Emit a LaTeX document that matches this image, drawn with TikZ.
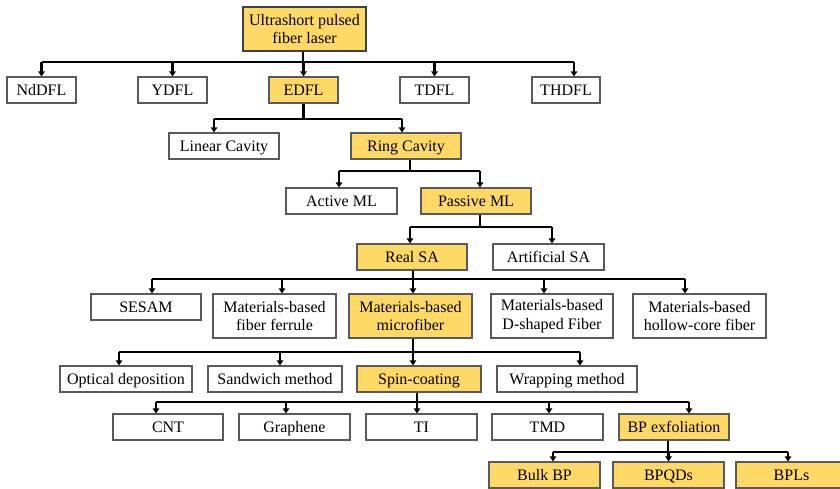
\documentclass[tikz,border=0pt]{standalone}
\usepackage{fontspec}
\setmainfont{Liberation Serif}
\usetikzlibrary{arrows.meta}
\definecolor{gold}{RGB}{255,217,102}
\definecolor{edge}{RGB}{90,90,90}
\begin{document}
\begin{tikzpicture}[x=1pt,y=-1pt,
  bx/.style={draw=edge,line width=1.2pt,minimum height=26pt,inner sep=0pt,align=center,
     font=\fontsize{16}{18.5}\selectfont},
  one/.style={text height=12pt,text depth=1.4pt},
  hi/.style={bx,fill=gold},
  tall/.style={minimum height=44pt},
  ln/.style={line width=2.4pt},
  arr/.style={line width=2.4pt,-{Triangle[length=5pt,width=6.5pt]}}]
\useasboundingbox (0,0) rectangle (840,488);
\clip (0,0) rectangle (840,488);
% level 0
\node[hi,tall,minimum width=123pt,draw=black!75] (root) at (304.5,29) {Ultrashort pulsed\\fiber laser};
% level 1
\node[bx,one,minimum width=69pt] (nd) at (41.5,90) {NdDFL};
\node[bx,one,minimum width=69pt] (yd) at (172.5,90) {YDFL};
\node[hi,one,minimum width=69pt] (ed) at (303.5,90) {EDFL};
\node[bx,one,minimum width=69pt] (td) at (434.5,90) {TDFL};
\node[bx,one,minimum width=68pt] (thd) at (566,90) {THDFL};
% level 2
\node[bx,one,minimum width=110pt] (lin) at (224,146) {Linear Cavity};
\node[hi,one,minimum width=110pt] (ring) at (406,146) {Ring Cavity};
% level 3
\node[bx,one,minimum width=111pt] (act) at (341.5,201) {Active ML};
\node[hi,one,minimum width=110pt] (pas) at (476,201) {Passive ML};
% level 4
\node[hi,one,minimum width=110pt] (real) at (412,257) {Real SA};
\node[bx,one,minimum width=111pt] (art) at (548.5,257) {Artificial SA};
% level 5
\node[bx,one,minimum width=110pt] (ses) at (146,307) {SESAM};
\node[bx,tall,minimum width=123pt] (fer) at (274.5,316) {Materials-based\\fiber ferrule};
\node[hi,tall,minimum width=123pt] (mic) at (410.5,316) {Materials-based\\microfiber};
\node[bx,tall,minimum width=122pt] (dsh) at (552,316) {Materials-based\\D-shaped Fiber};
\node[bx,tall,minimum width=133pt] (hol) at (699.5,316) {Materials-based\\hollow-core fiber};
% level 6
\node[bx,one,minimum width=132pt] (opt) at (126,379) {Optical deposition};
\node[bx,one,minimum width=134pt] (san) at (275,379) {Sandwich method};
\node[hi,one,minimum width=124pt] (spin) at (419,379) {Spin-coating};
\node[bx,one,minimum width=140pt] (wrap) at (567,379) {Wrapping method};
% level 7
\node[bx,one,minimum width=110pt] (cnt) at (168,427) {CNT};
\node[bx,one,minimum width=111pt] (gra) at (294.5,427) {Graphene};
\node[bx,one,minimum width=111pt] (ti) at (421.5,427) {TI};
\node[bx,one,minimum width=111pt] (tmd) at (547.5,427) {TMD};
\node[hi,one,minimum width=110pt] (bpe) at (674,427) {BP exfoliation};
% level 8
\node[hi,one,minimum width=111pt] (bulk) at (544.5,475) {Bulk BP};
\node[hi,one,minimum width=111pt] (bpqd) at (668.5,475) {BPQDs};
\node[hi,one,minimum width=111pt] (bpl) at (791.5,475) {BPLs};

% connectors level 1
\coordinate (b1) at (0,62);
\draw[ln] ([xshift=-1.5]root.south) -- ([xshift=-1.5]root.south |- b1);
\draw[ln] (nd.north |- b1) -- ([xshift=8]thd.north |- b1);
\draw[arr] (nd.north |- b1) -- (nd.north);
\draw[arr] (yd.north |- b1) -- (yd.north);
\draw[arr] (ed.north |- b1) -- (ed.north);
\draw[arr] (td.north |- b1) -- (td.north);
\draw[arr] ([xshift=8]thd.north |- b1) -- ([xshift=8]thd.north);
% level 2
\coordinate (b2) at (0,119);
\draw[ln] (ed.south) -- (ed.south |- b2);
\draw[ln] ([xshift=-10]lin.north |- b2) -- ([xshift=-4]ring.north |- b2);
\draw[arr] ([xshift=-10]lin.north |- b2) -- ([xshift=-10]lin.north);
\draw[arr] ([xshift=-4]ring.north |- b2) -- ([xshift=-4]ring.north);
% level 3
\coordinate (b3) at (0,171);
\draw[ln] ([xshift=4]ring.south) -- ([xshift=4]ring.south |- b3);
\draw[ln] ([xshift=-2.5]act.north |- b3) -- ([xshift=4]pas.north |- b3);
\draw[arr] ([xshift=-2.5]act.north |- b3) -- ([xshift=-2.5]act.north);
\draw[arr] ([xshift=4]pas.north |- b3) -- ([xshift=4]pas.north);
% level 4
\coordinate (b4) at (0,227);
\draw[ln] ([xshift=4]pas.south) -- ([xshift=4]pas.south |- b4);
\draw[ln] ([xshift=-2]real.north |- b4) -- ([xshift=3.5]art.north |- b4);
\draw[arr] ([xshift=-2]real.north |- b4) -- ([xshift=-2]real.north);
\draw[arr] ([xshift=3.5]art.north |- b4) -- ([xshift=3.5]art.north);
% level 5
\coordinate (b5) at (0,279);
\draw[ln] ([xshift=1]real.south) -- ([xshift=1]real.south |- b5);
\draw[ln] ([xshift=6]ses.north |- b5) -- ([xshift=-14.5]hol.north |- b5);
\draw[arr] ([xshift=6]ses.north |- b5) -- ([xshift=6]ses.north);
\draw[arr] ([xshift=7.5]fer.north |- b5) -- ([xshift=7.5]fer.north);
\draw[arr] ([xshift=2.5]mic.north |- b5) -- ([xshift=2.5]mic.north);
\draw[arr] ([xshift=-8]dsh.north |- b5) -- ([xshift=-8]dsh.north);
\draw[arr] ([xshift=-14.5]hol.north |- b5) -- ([xshift=-14.5]hol.north);
% level 6
\coordinate (b6) at (0,352);
\draw[ln] ([xshift=2.5]mic.south) -- ([xshift=2.5]mic.south |- b6);
\draw[ln] ([xshift=-7]opt.north |- b6) -- ([xshift=13]wrap.north |- b6);
\draw[arr] ([xshift=-7]opt.north |- b6) -- ([xshift=-7]opt.north);
\draw[arr] ([xshift=5]san.north |- b6) -- ([xshift=5]san.north);
\draw[arr] ([xshift=-6]spin.north |- b6) -- ([xshift=-6]spin.north);
\draw[arr] ([xshift=13]wrap.north |- b6) -- ([xshift=13]wrap.north);
% level 7
\coordinate (b7) at (0,402);
\draw[ln] ([xshift=-2]spin.south) -- ([xshift=-2]spin.south |- b7);
\draw[ln] ([xshift=-12]cnt.north |- b7) -- ([xshift=15]bpe.north |- b7);
\draw[arr] ([xshift=-12]cnt.north |- b7) -- ([xshift=-12]cnt.north);
\draw[arr] ([xshift=-8.5]gra.north |- b7) -- ([xshift=-8.5]gra.north);
\draw[arr] ([xshift=-4.5]ti.north |- b7) -- ([xshift=-4.5]ti.north);
\draw[arr] ([xshift=1.5]tmd.north |- b7) -- ([xshift=1.5]tmd.north);
\draw[arr] ([xshift=15]bpe.north |- b7) -- ([xshift=15]bpe.north);
% level 8
\coordinate (b8) at (0,452);
\draw[ln] ([xshift=-6]bpe.south) -- ([xshift=-6]bpe.south |- b8);
\draw[ln] ([xshift=8.5]bulk.north |- b8) -- ([xshift=-3.5]bpl.north |- b8);
\draw[arr] ([xshift=8.5]bulk.north |- b8) -- ([xshift=8.5]bulk.north);
\draw[arr] (bpqd.north |- b8) -- (bpqd.north);
\draw[arr] ([xshift=-3.5]bpl.north |- b8) -- ([xshift=-3.5]bpl.north);
\end{tikzpicture}
\end{document}
